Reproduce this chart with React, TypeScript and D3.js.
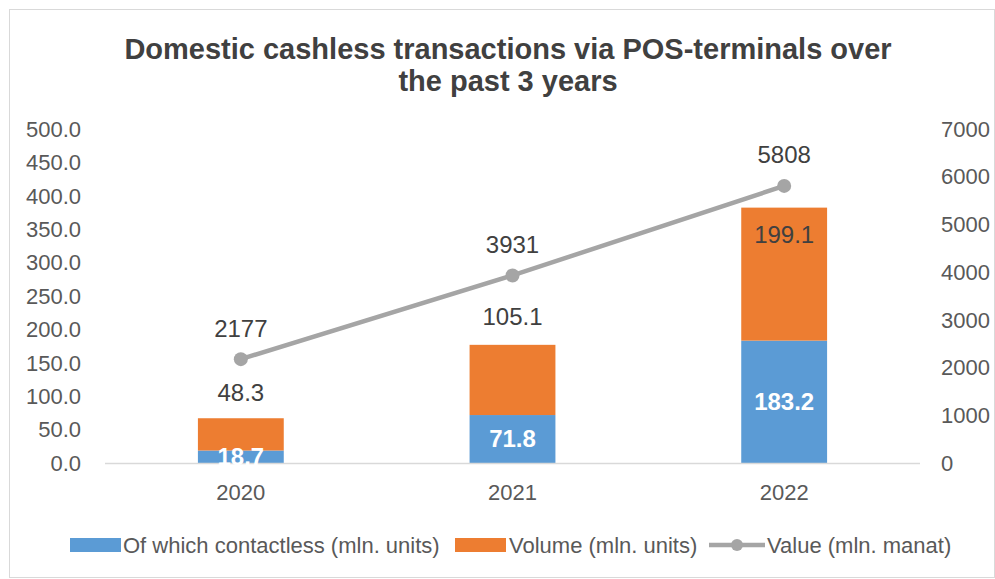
import React, { useEffect, useRef } from "react";
import * as d3 from "d3";

const years = ["2020", "2021", "2022"];
const contactless = [18.7, 71.8, 183.2];
const volume = [48.3, 105.1, 199.1];
const value = [2177, 3931, 5808];
const leftTicks = [0, 50, 100, 150, 200, 250, 300, 350, 400, 450, 500];
const rightTicks = [0, 1000, 2000, 3000, 4000, 5000, 6000, 7000];
// the orange labels were nudged by hand in the original
const volumeLabelShift = [-26, -28, 27];

const W = 995;
const H = 579;
const FONT = "'Liberation Sans', Arial, sans-serif";

const App: React.FC = () => {
	const svgRef = useRef<SVGSVGElement | any>();

	useEffect(() => {
		const svg = d3.select(svgRef.current);
		svg.selectAll("*").remove();

		const left = 105;
		const right = 920;
		const top = 129;
		const bottom = 463;

		svg
			.append("rect")
			.attr("x", 9.5)
			.attr("y", 9.5)
			.attr("width", W - 10)
			.attr("height", H - 11)
			.attr("fill", "#fff")
			.attr("stroke", "#d9d9d9");

		const title = svg
			.append("text")
			.attr("text-anchor", "middle")
			.attr("font-family", FONT)
			.attr("font-weight", "bold")
			.attr("font-size", 29)
			.attr("fill", "#404040");
		title.append("tspan").attr("x", 508).attr("y", 59).text("Domestic cashless transactions via POS-terminals over");
		title.append("tspan").attr("x", 508).attr("y", 91).text("the past 3 years");

		const x = d3.scaleBand().domain(years).range([left, right]).paddingInner(0.684).paddingOuter(0.342);
		const y = d3.scaleLinear().domain([0, 500]).range([bottom, top]);
		const y2 = d3.scaleLinear().domain([0, 7000]).range([bottom, top]);

		// left axis
		svg
			.append("g")
			.selectAll("text")
			.data(leftTicks)
			.join("text")
			.attr("x", 81)
			.attr("y", (d) => y(d))
			.attr("dy", "0.35em")
			.attr("text-anchor", "end")
			.attr("font-family", FONT)
			.attr("font-size", 22)
			.attr("fill", "#595959")
			.text((d) => d3.format(".1f")(d));

		// right axis
		svg
			.append("g")
			.selectAll("text")
			.data(rightTicks)
			.join("text")
			.attr("x", 941)
			.attr("y", (d) => y2(d))
			.attr("dy", "0.35em")
			.attr("text-anchor", "start")
			.attr("font-family", FONT)
			.attr("font-size", 22)
			.attr("fill", "#595959")
			.text((d) => String(d));

		// bars
		const stacked = years.map((yr, i) => ({ yr, a: contactless[i], b: volume[i] }));
		const bars = svg.append("g");
		bars
			.selectAll(".blue")
			.data(stacked)
			.join("rect")
			.attr("x", (d) => x(d.yr)!)
			.attr("width", x.bandwidth())
			.attr("y", (d) => y(d.a))
			.attr("height", (d) => y(0) - y(d.a))
			.attr("fill", "#5b9bd5");
		bars
			.selectAll(".orange")
			.data(stacked)
			.join("rect")
			.attr("x", (d) => x(d.yr)!)
			.attr("width", x.bandwidth())
			.attr("y", (d) => y(d.a + d.b))
			.attr("height", (d) => y(d.a) - y(d.a + d.b))
			.attr("fill", "#ed7d31");

		// x axis line
		svg
			.append("line")
			.attr("x1", left)
			.attr("x2", right)
			.attr("y1", bottom + 0.5)
			.attr("y2", bottom + 0.5)
			.attr("stroke", "#d9d9d9")
			.attr("stroke-width", 1.5);

		svg
			.append("g")
			.selectAll("text")
			.data(years)
			.join("text")
			.attr("x", (d) => x(d)! + x.bandwidth() / 2)
			.attr("y", 492)
			.attr("dy", "0.35em")
			.attr("text-anchor", "middle")
			.attr("font-family", FONT)
			.attr("font-size", 22)
			.attr("fill", "#595959")
			.text((d) => d);

		// labels on blue
		svg
			.append("g")
			.selectAll("text")
			.data(stacked)
			.join("text")
			.attr("x", (d) => x(d.yr)! + x.bandwidth() / 2)
			.attr("y", (d) => y(d.a / 2))
			.attr("dy", "0.35em")
			.attr("text-anchor", "middle")
			.attr("font-family", FONT)
			.attr("font-weight", "bold")
			.attr("font-size", 24)
			.attr("fill", "#fff")
			.text((d) => d3.format(".1f")(d.a));

		// labels on orange
		svg
			.append("g")
			.selectAll("text")
			.data(stacked)
			.join("text")
			.attr("x", (d) => x(d.yr)! + x.bandwidth() / 2)
			.attr("y", (d, i) => y(d.a + d.b) + volumeLabelShift[i])
			.attr("dy", "0.35em")
			.attr("text-anchor", "middle")
			.attr("font-family", FONT)
			.attr("font-size", 24)
			.attr("fill", "#404040")
			.text((d) => d3.format(".1f")(d.b));

		// value line
		const pts = years.map((yr, i) => ({ yr, v: value[i] }));
		const line = d3
			.line<any>()
			.x((d) => x(d.yr)! + x.bandwidth() / 2)
			.y((d) => y2(d.v));
		svg
			.append("path")
			.datum(pts)
			.attr("d", line)
			.attr("fill", "none")
			.attr("stroke", "#a5a5a5")
			.attr("stroke-width", 4.5)
			.attr("stroke-linecap", "round");
		svg
			.append("g")
			.selectAll("circle")
			.data(pts)
			.join("circle")
			.attr("cx", (d) => x(d.yr)! + x.bandwidth() / 2)
			.attr("cy", (d) => y2(d.v))
			.attr("r", 7)
			.attr("fill", "#a5a5a5");
		svg
			.append("g")
			.selectAll("text")
			.data(pts)
			.join("text")
			.attr("x", (d) => x(d.yr)! + x.bandwidth() / 2)
			.attr("y", (d) => y2(d.v) - 31)
			.attr("dy", "0.35em")
			.attr("text-anchor", "middle")
			.attr("font-family", FONT)
			.attr("font-size", 24)
			.attr("fill", "#404040")
			.text((d) => String(d.v));

		// legend
		const lg = svg.append("g").attr("font-family", FONT).attr("font-size", 22).attr("fill", "#595959");
		lg.append("rect").attr("x", 70).attr("y", 538).attr("width", 51).attr("height", 14).attr("fill", "#5b9bd5");
		lg.append("text").attr("x", 123).attr("y", 545).attr("dy", "0.35em").text("Of which contactless (mln. units)");
		lg.append("rect").attr("x", 455).attr("y", 538).attr("width", 51).attr("height", 14).attr("fill", "#ed7d31");
		lg.append("text").attr("x", 509).attr("y", 545).attr("dy", "0.35em").text("Volume (mln. units)");
		lg.append("line").attr("x1", 709).attr("x2", 765).attr("y1", 545).attr("y2", 545).attr("stroke", "#a5a5a5").attr("stroke-width", 4.5);
		lg.append("circle").attr("cx", 737).attr("cy", 545).attr("r", 6).attr("fill", "#a5a5a5");
		lg.append("text").attr("x", 767).attr("y", 545).attr("dy", "0.35em").text("Value (mln. manat)");
	}, []);

	return (
		<svg
			ref={svgRef}
			width={W}
			height={H}
			style={{ position: "absolute", left: 0, top: 0, background: "#fff" }}
		/>
	);
};

export default App;
